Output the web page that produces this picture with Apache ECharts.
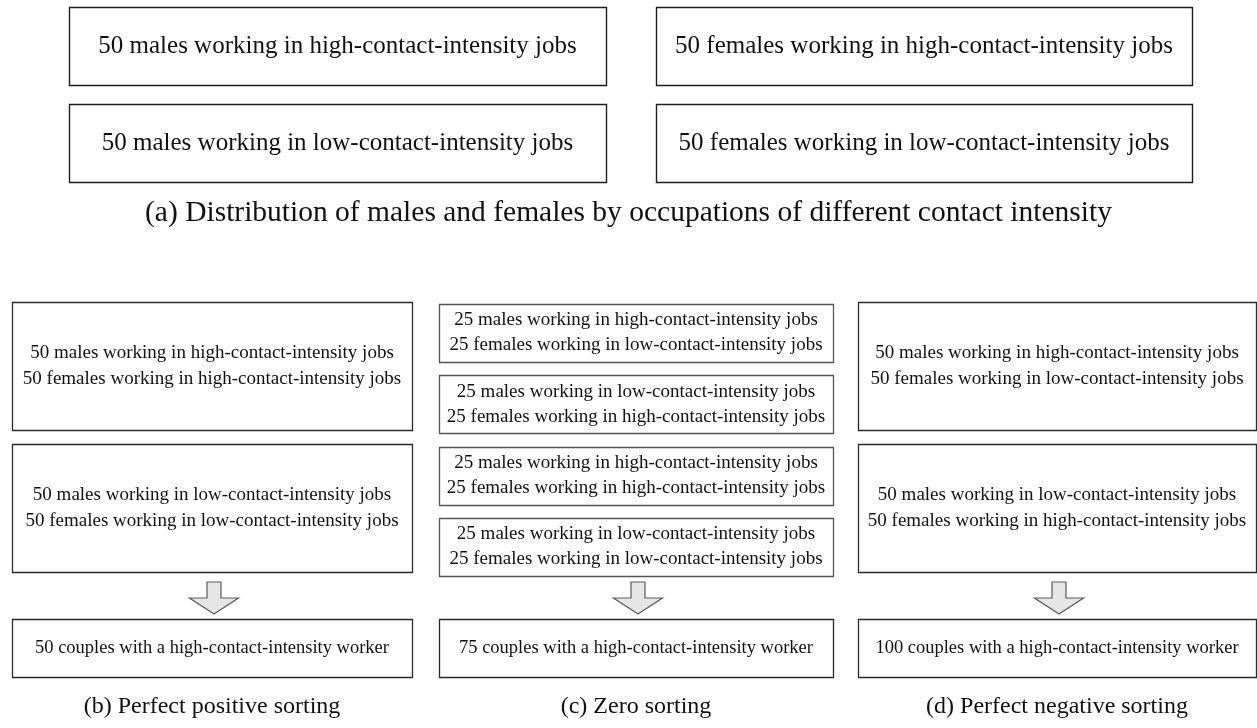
<!DOCTYPE html>
<html>
<head>
<meta charset="utf-8">
<script src="https://cdn.jsdelivr.net/npm/echarts@6/dist/echarts.min.js"></script>
<style>
  html, body { margin: 0; padding: 0; background: #ffffff; }
  #chart { width: 1257px; height: 728px; }
</style>
</head>
<body>
<div id="chart"></div>
<script>
// ---------------- data (text content of the diagram) ----------------
const maleGroups = [
  '50 males working in high-contact-intensity jobs',
  '50 males working in low-contact-intensity jobs'
];
const femaleGroups = [
  '50 females working in high-contact-intensity jobs',
  '50 females working in low-contact-intensity jobs'
];
const captionA = '(a) Distribution of males and females by occupations of different contact intensity';

const positivePairs = [
  ['50 males working in high-contact-intensity jobs', '50 females working in high-contact-intensity jobs'],
  ['50 males working in low-contact-intensity jobs', '50 females working in low-contact-intensity jobs']
];
const zeroPairs = [
  ['25 males working in high-contact-intensity jobs', '25 females working in low-contact-intensity jobs'],
  ['25 males working in low-contact-intensity jobs', '25 females working in high-contact-intensity jobs'],
  ['25 males working in high-contact-intensity jobs', '25 females working in high-contact-intensity jobs'],
  ['25 males working in low-contact-intensity jobs', '25 females working in low-contact-intensity jobs']
];
const negativePairs = [
  ['50 males working in high-contact-intensity jobs', '50 females working in low-contact-intensity jobs'],
  ['50 males working in low-contact-intensity jobs', '50 females working in high-contact-intensity jobs']
];
const outcomes = [
  '50 couples with a high-contact-intensity worker',
  '75 couples with a high-contact-intensity worker',
  '100 couples with a high-contact-intensity worker'
];
const panelCaptions = ['(b) Perfect positive sorting', '(c) Zero sorting', '(d) Perfect negative sorting'];

// ---------------- layout (positions / sizes / styles) ----------------
const W = 1257, H = 728;
const LAYOUT = {
  top: { cols: [[69, 606], [656, 1192]], rowTop: 7, rowH: 78, rowPitch: 97, fontSize: 25 },
  captionA: { y: 213, fontSize: 29.5 },
  bottomCols: [[12, 412], [439, 833], [858, 1256]],
  bottomStart: [302, 304, 302],
  bottomRowH: [128, 58, 128],
  bottomPitch: [142, 71.3, 142],
  lineHeight: [26, 25, 26],
  arrow: { top: 582, neck: 598, tip: 614, shaftW: 14, headW: 49 },
  result: { top: 619, bottom: 677 },
  captionY: 707,
  boxFont: 19,
  resultFont: 18.5,
  captionFont: 24
};
const SERIF = '"Liberation Serif", "Times New Roman", serif';

// ---------------- build diagram items from the data ----------------
const items = [];
// panel (a)
[maleGroups, femaleGroups].forEach((group, c) => {
  const [x0, x1] = LAYOUT.top.cols[c];
  group.forEach((txt, r) => {
    const y0 = LAYOUT.top.rowTop + r * LAYOUT.top.rowPitch;
    items.push({ kind: 'box', box: [x0, y0, x1, y0 + LAYOUT.top.rowH], lines: [txt],
      fontSize: LAYOUT.top.fontSize, lineHeight: 30, stroke: '#1e1e1e', lw: 1.4 });
  });
});
items.push({ kind: 'text', box: [0, LAYOUT.captionA.y, W, LAYOUT.captionA.y], lines: [captionA],
  fontSize: LAYOUT.captionA.fontSize });

// panels (b)-(d)
[positivePairs, zeroPairs, negativePairs].forEach((pairs, c) => {
  const [x0, x1] = LAYOUT.bottomCols[c];
  pairs.forEach((pair, r) => {
    const y0 = LAYOUT.bottomStart[c] + r * LAYOUT.bottomPitch[c];
    items.push({ kind: 'box', box: [x0, y0, x1, y0 + LAYOUT.bottomRowH[c]], lines: pair,
      fontSize: LAYOUT.boxFont, lineHeight: LAYOUT.lineHeight[c], stroke: c === 1 ? '#555' : '#2a2a2a', lw: 1.3 });
  });
  const cx = (x0 + x1) / 2 + 2;
  items.push({ kind: 'arrow', box: [cx - LAYOUT.arrow.headW / 2, LAYOUT.arrow.top, cx + LAYOUT.arrow.headW / 2, LAYOUT.arrow.tip] });
  items.push({ kind: 'box', box: [x0, LAYOUT.result.top, x1, LAYOUT.result.bottom], lines: [outcomes[c]],
    fontSize: LAYOUT.resultFont, lineHeight: 24, stroke: '#2a2a2a', lw: 1.3 });
  items.push({ kind: 'text', box: [x0, LAYOUT.captionY, x1, LAYOUT.captionY], lines: [panelCaptions[c]],
    fontSize: LAYOUT.captionFont });
});

function renderItem(params, api) {
  const it = items[params.dataIndex];
  const p0 = api.coord([api.value(0), api.value(1)]);
  const p1 = api.coord([api.value(2), api.value(3)]);
  const cx = (p0[0] + p1[0]) / 2, cy = (p0[1] + p1[1]) / 2;
  if (it.kind === 'box') {
    return {
      type: 'group',
      children: [
        { type: 'rect', shape: { x: Math.round(p0[0]) + 0.5, y: Math.round(p0[1]) + 0.5,
            width: Math.round(p1[0] - p0[0]), height: Math.round(p1[1] - p0[1]) },
          style: { fill: '#ffffff', stroke: it.stroke, lineWidth: it.lw } },
        { type: 'text', style: { text: it.lines.join('\n'), x: cx, y: cy, align: 'center', verticalAlign: 'middle',
            fontSize: it.fontSize, fontFamily: SERIF, lineHeight: it.lineHeight, fill: '#111' } }
      ]
    };
  }
  if (it.kind === 'arrow') {
    const sw = LAYOUT.arrow.shaftW / 2;
    const neck = api.coord([0, LAYOUT.arrow.neck])[1];
    const top = p0[1], tip = p1[1];
    return {
      type: 'polygon',
      shape: { points: [[cx - sw, top], [cx + sw, top], [cx + sw, neck], [p1[0], neck], [cx, tip], [p0[0], neck], [cx - sw, neck]] },
      style: { fill: '#e6e6e6', stroke: '#5a5a5a', lineWidth: 1.2 }
    };
  }
  return {
    type: 'text',
    style: { text: it.lines.join('\n'), x: cx, y: cy, align: 'center', verticalAlign: 'middle',
      fontSize: it.fontSize, fontFamily: SERIF, fill: '#111' }
  };
}

const chart = echarts.init(document.getElementById('chart'), null, { renderer: 'canvas' });
chart.setOption({
  animation: false,
  backgroundColor: '#ffffff',
  grid: { left: 0, right: 0, top: 0, bottom: 0 },
  xAxis: { type: 'value', min: 0, max: W, show: false },
  yAxis: { type: 'value', min: 0, max: H, inverse: true, show: false },
  series: [{
    type: 'custom',
    coordinateSystem: 'cartesian2d',
    clip: false,
    silent: true,
    encode: { x: [0, 2], y: [1, 3] },
    data: items.map(it => it.box),
    renderItem: renderItem
  }]
});
</script>
</body>
</html>
